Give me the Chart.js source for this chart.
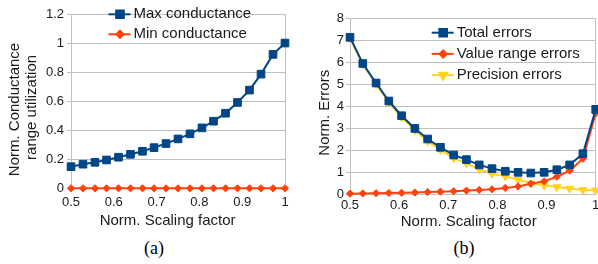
<!DOCTYPE html>
<html>
<head>
<meta charset="utf-8">
<script src="https://cdn.jsdelivr.net/npm/chart.js@4.4.1/dist/chart.umd.min.js"></script>
<style>
  html, body { margin: 0; padding: 0; background: #fff; }
  #wrap { position: relative; width: 598px; height: 264px; overflow: hidden; }
  #c1 { position: absolute; left: 0; top: 0; }
  #c2 { position: absolute; left: 300px; top: 0; }
  .cap { position: absolute; top: 238px; font: 18px "Liberation Serif", serif; color: #000; width: 40px; text-align: center; }
</style>
</head>
<body>
<div id="wrap">
  <canvas id="c1" width="300" height="232"></canvas>
  <canvas id="c2" width="310" height="232"></canvas>
  <div class="cap" style="left:134px">(a)</div>
  <div class="cap" style="left:444px">(b)</div>
</div>
<script>
// (a) conductance range utilization
const xA = [0.5, 0.528, 0.556, 0.583, 0.611, 0.639, 0.667, 0.694, 0.722, 0.75,
            0.778, 0.806, 0.833, 0.861, 0.889, 0.917, 0.944, 0.972, 1.0];
const maxCond = [0.149, 0.166, 0.179, 0.195, 0.214, 0.234, 0.255, 0.28, 0.308, 0.34,
                 0.375, 0.416, 0.462, 0.517, 0.591, 0.676, 0.786, 0.922, 1.0];
const minCond = [0, 0, 0, 0, 0, 0, 0, 0, 0, 0, 0, 0, 0, 0, 0, 0, 0, 0, 0];

// (b) errors
const xB = [0.5, 0.526, 0.553, 0.579, 0.605, 0.632, 0.658, 0.684, 0.711, 0.737,
            0.763, 0.789, 0.816, 0.842, 0.868, 0.895, 0.921, 0.947, 0.974, 1.0];
const totalErr = [7.15, 5.96, 5.07, 4.25, 3.58, 3.0, 2.52, 2.14, 1.79, 1.58,
                  1.34, 1.17, 1.05, 1.0, 0.97, 1.0, 1.12, 1.34, 1.85, 3.87];
const rangeErr = [0.03, 0.04, 0.05, 0.06, 0.07, 0.08, 0.1, 0.12, 0.14, 0.17,
                  0.2, 0.23, 0.29, 0.36, 0.48, 0.59, 0.8, 1.08, 1.62, 3.69];
const precErr = [7.12, 5.92, 5.02, 4.19, 3.51, 2.92, 2.42, 2.02, 1.65, 1.41,
                 1.14, 0.94, 0.82, 0.67, 0.5, 0.41, 0.33, 0.26, 0.2, 0.18];

const BLUE = '#004586', RED = '#ff420e', YELLOW = '#ffd320';
const GRID = '#c0c0c0', TXT = '#1a1a1a';
const FONT = '"Liberation Sans", Arial, sans-serif';

function pts(xs, ys) { return xs.map((x, i) => ({x: x, y: ys[i]})); }

function series(label, xs, ys, color, style, r, rot) {
  return {
    label: label, data: pts(xs, ys),
    borderColor: color, backgroundColor: color, borderWidth: 2,
    pointStyle: style, pointRadius: r, pointRotation: rot || 0,
    pointBorderWidth: 1, pointHoverRadius: r, clip: false, tension: 0
  };
}

// legend drawn inside the plot, no box
const inLegend = {
  id: 'inLegend',
  afterDatasetsDraw(chart, args, o) {
    const ctx = chart.ctx;
    ctx.save();
    chart.data.datasets.forEach((ds, i) => {
      const y = o.y + i * o.dy;
      ctx.strokeStyle = ds.borderColor;
      ctx.fillStyle = ds.backgroundColor;
      ctx.lineWidth = 2;
      ctx.beginPath();
      ctx.moveTo(o.x, y);
      ctx.lineTo(o.x + 22, y);
      ctx.stroke();
      Chart.helpers.drawPoint(ctx, {pointStyle: ds.pointStyle, radius: ds.pointRadius,
        rotation: ds.pointRotation, borderWidth: 1}, o.x + 11.5, y);
      ctx.fillStyle = TXT;
      ctx.font = '15px ' + FONT;
      ctx.textBaseline = 'middle';
      ctx.fillText(ds.label, o.x + 25, y);
    });
    ctx.restore();
  }
};

function opts(c) {
  return {
    responsive: false, animation: false, devicePixelRatio: 1,
    layout: {padding: {top: c.top, right: c.right, left: 0, bottom: 0}},
    plugins: {legend: {display: false}, tooltip: {enabled: false}, inLegend: c.legend},
    scales: {
      x: {
        type: 'linear', min: 0.5, max: 1,
        afterFit: s => { s.height = c.xh; },
        ticks: {stepSize: 0.1, color: TXT, padding: c.xtp, font: {family: FONT, size: 13},
                callback: v => String(Math.round(v * 10) / 10)},
        grid: {drawTicks: false, color: g => (g.tick && (g.tick.value === 0.5 || g.tick.value === 1)) ? GRID : 'rgba(0,0,0,0)'},
        border: {display: false},
        title: {display: true, text: c.xt, color: TXT, padding: {top: 0, bottom: c.xttp},
                font: {family: FONT, size: 15, lineHeight: 1.13}}
      },
      y: {
        min: 0, max: c.ymax,
        afterFit: s => { s.width = c.yw; },
        ticks: {stepSize: c.ystep, color: TXT, padding: c.ytp, font: {family: FONT, size: 13},
                callback: v => String(Math.round(v * 10) / 10)},
        grid: {color: GRID, tickLength: 4},
        border: {display: true, color: GRID},
        title: {display: true, text: c.yt, color: TXT, padding: {top: c.yttp, bottom: 0},
                font: {family: FONT, size: 15, lineHeight: 1.13}}
      }
    }
  };
}

new Chart(document.getElementById('c1'), {
  type: 'line',
  data: {datasets: [
    series('Max conductance', xA, maxCond, BLUE, 'rect', 5.4),
    series('Min conductance', xA, minCond, RED, 'rectRot', 3.6)
  ]},
  options: opts({top: 14, right: 15, xh: 43.7, yw: 71, xtp: 6, xttp: 2.5, ytp: 3, yttp: 6.5,
    ymax: 1.2, ystep: 0.2,
    xt: 'Norm. Scaling factor     ',
    yt: ['Norm. Conductance    ', 'range utilization   '],
    legend: {x: 108.5, y: 14.3, dy: 20}}),
  plugins: [inLegend]
});

new Chart(document.getElementById('c2'), {
  type: 'line',
  data: {datasets: [
    series('Total errors', xB, totalErr, BLUE, 'rect', 5.4),
    series('Value range errors', xB, rangeErr, RED, 'rectRot', 3.6),
    series('Precision errors', xB, precErr, YELLOW, 'triangle', 4.6, 180)
  ]},
  options: opts({top: 18.7, right: 14.3, xh: 37.7, yw: 50, xtp: 3.4, xttp: 1.5, ytp: 2, yttp: 16.5,
    ymax: 8, ystep: 1,
    xt: 'Norm. Scaling factor  ',
    yt: 'Norm. Errors   ',
    legend: {x: 131.7, y: 32.7, dy: 21.2}}),
  plugins: [inLegend]
});
</script>
</body>
</html>
